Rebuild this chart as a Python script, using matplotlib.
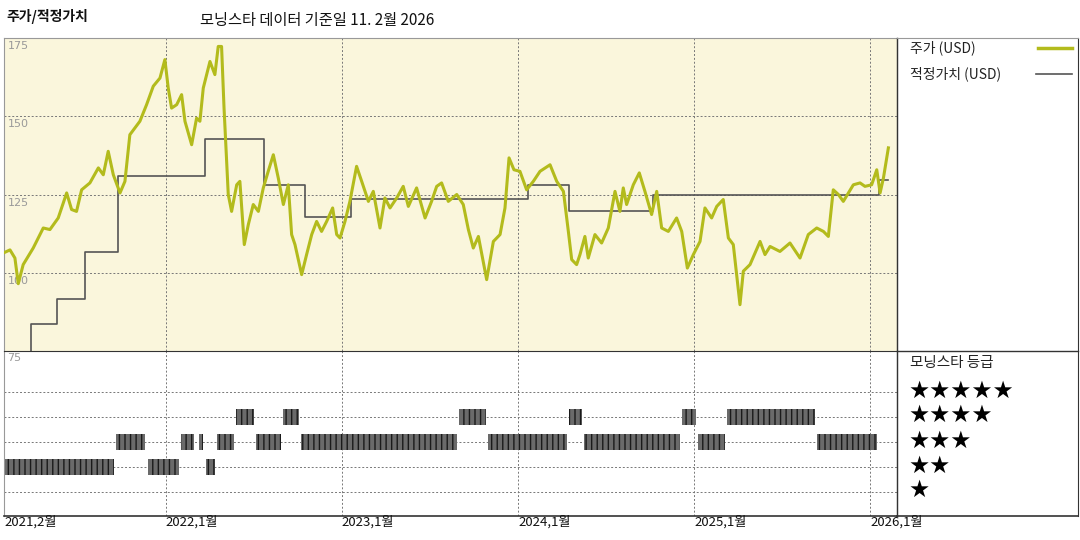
import matplotlib
matplotlib.use("Agg")
import matplotlib.pyplot as plt
from matplotlib.lines import Line2D

plt.rcParams['font.family'] = ['Noto Sans CJK KR', 'DejaVu Sans']

# ---- data ----
price_dates = [2021.076, 2021.114, 2021.142, 2021.161, 2021.189, 2021.246, 2021.303, 2021.341, 2021.388,
               2021.436, 2021.464, 2021.492, 2021.521, 2021.568, 2021.616, 2021.644, 2021.672, 2021.701,
               2021.739, 2021.767, 2021.795, 2021.852, 2021.890, 2021.928, 2021.966, 2021.994, 2022.013,
               2022.032, 2022.061, 2022.089, 2022.108, 2022.146, 2022.174, 2022.193, 2022.212, 2022.250,
               2022.278, 2022.297, 2022.316, 2022.330, 2022.354, 2022.373, 2022.402, 2022.420, 2022.445,
               2022.468, 2022.496, 2022.525, 2022.553, 2022.581, 2022.610, 2022.638, 2022.667, 2022.695,
               2022.714,
               2022.733, 2022.771, 2022.799, 2022.828, 2022.856, 2022.884, 2022.913, 2022.947, 2022.970,
               2022.989, 2023.017, 2023.045, 2023.083, 2023.112, 2023.150, 2023.178, 2023.216, 2023.244,
               2023.273, 2023.311, 2023.348, 2023.377, 2023.424, 2023.472, 2023.509, 2023.538, 2023.566,
               2023.604, 2023.652, 2023.689, 2023.718, 2023.746, 2023.775, 2023.822, 2023.860, 2023.898,
               2023.926, 2023.949, 2023.977, 2024.011, 2024.049, 2024.087, 2024.125, 2024.182, 2024.220,
               2024.258, 2024.286, 2024.305, 2024.333,
               2024.352, 2024.380, 2024.399, 2024.437, 2024.475, 2024.513, 2024.551, 2024.579, 2024.598,
               2024.617, 2024.655, 2024.689, 2024.721, 2024.759, 2024.788, 2024.816, 2024.854, 2024.901,
               2024.930, 2024.962, 2024.996, 2025.034, 2025.062, 2025.100, 2025.129, 2025.166, 2025.195,
               2025.223, 2025.261, 2025.280, 2025.318, 2025.375, 2025.403, 2025.432, 2025.488, 2025.545,
               2025.602, 2025.649, 2025.697, 2025.735, 2025.763, 2025.791, 2025.820, 2025.848, 2025.877,
               2025.905, 2025.943, 2025.971, 2026.009, 2026.038, 2026.057, 2026.076, 2026.104]
price_values = [106.3, 107.3, 104.7, 96.5, 102.6, 107.9, 114.3, 113.8, 117.5,
                125.5, 120.2, 119.6, 126.5, 128.7, 133.5, 131.3, 138.8, 131.3,
                125.5, 129.2, 144.1, 148.4, 153.7, 159.6, 162.2, 168.1, 159.0,
                152.6, 153.7, 156.9, 148.4, 140.9, 149.4, 148.4, 159.0, 167.5,
                163.3, 172.3, 172.3, 152.6, 125.0, 119.6, 128.1, 129.2, 109.0,
                115.4, 121.8, 119.6, 127.1, 132.4, 137.7, 130.3, 121.8, 128.1,
                112.2,
                109.0, 99.4, 105.8, 112.2, 116.4, 113.2, 116.4, 120.7, 112.2,
                111.1, 116.4, 122.8, 134.0, 129.2, 122.8, 126.0, 114.3, 123.9,
                120.7, 123.9, 127.6, 121.2, 127.1, 117.5, 122.8, 127.6, 128.7,
                122.8, 125.0, 121.8, 113.8, 107.9, 111.6, 97.8, 110.0, 112.2,
                120.7, 136.7, 132.9, 132.4, 126.5, 129.2, 132.4, 134.5, 129.2,
                126.0, 113.2, 104.2, 102.6,
                105.8, 111.6, 104.7, 112.2, 109.5, 114.3, 126.0, 119.6, 127.1,
                121.8, 128.1, 131.9, 126.0, 118.6, 126.0, 114.3, 113.2, 117.5,
                113.2, 101.5, 105.8, 110.0, 120.7, 117.5, 121.2, 123.4, 111.1,
                109.0, 89.8, 100.5, 102.6, 110.0, 105.8, 108.4, 106.8, 109.5,
                104.7, 112.2, 114.3, 113.2, 111.6, 126.5, 125.0, 122.8, 125.5,
                128.1, 128.7, 127.6, 128.1, 132.9, 125.5, 130.3, 139.9]

fv_dates = [2021.080, 2021.233, 2021.381, 2021.540, 2021.727, 2022.222, 2022.557, 2022.790,
            2023.051, 2024.057, 2024.290, 2024.767, 2026.051, 2026.102]
fv_values = [74.0, 83.6, 91.6, 106.7, 130.9, 142.7, 128.0, 117.8,
             123.6, 128.0, 119.8, 124.8, 129.7, 129.7]

rating_start = [2021.080, 2021.710, 2021.892, 2022.080, 2022.165, 2022.182, 2022.222, 2022.284,
                2022.392, 2022.506, 2022.659, 2022.761, 2023.659, 2023.824, 2024.284, 2024.369,
                2024.926, 2025.017, 2025.182, 2025.693]
rating_end = [2021.710, 2021.886, 2022.080, 2022.165, 2022.176, 2022.216, 2022.284, 2022.392,
              2022.506, 2022.659, 2022.761, 2023.659, 2023.824, 2024.284, 2024.369, 2024.926,
              2025.017, 2025.182, 2025.693, 2026.045]
rating_stars = [2, 3, 2, 3, 2, 3, 2, 3, 4, 3, 4, 3, 4, 3, 4, 3, 4, 3, 4, 3]

year_ticks = [2022, 2023, 2024, 2025, 2026]
x_labels = ["2021,2월", "2022,1월", "2023,1월", "2024,1월", "2025,1월", "2026,1월"]
y_ticks = [175, 150, 125, 100]

X0, X1 = 2021.080, 2026.153
W, H = 1080, 540

fig = plt.figure(figsize=(10.8, 5.4), dpi=100)
fig.patch.set_facecolor('white')

def fx(px): return px / W
def fy(py): return 1 - py / H

ax1 = fig.add_axes([fx(4), fy(351), fx(893), (351 - 38) / H])
ax2 = fig.add_axes([fx(4), fy(516), fx(893), (516 - 351) / H])

grid_kw = dict(color='#777777', linestyle=(0, (2, 2)), linewidth=0.7)

# upper
ax1.set_facecolor('#faf6dc')
ax1.set_xlim(X0, X1)
ax1.set_ylim(75, 175)
for v in [150, 125, 100]:
    ax1.axhline(v, **grid_kw, zorder=1)
for yr in year_ticks:
    ax1.axvline(yr, **grid_kw, zorder=1)
ax1.step(fv_dates, fv_values, where='post', color='#555555', lw=1.2, zorder=3)
ax1.plot(price_dates, price_values, color='#b3bb1c', lw=2.2, zorder=4)
for v in y_ticks:
    ax1.text(X0 + 0.02, v - 1.0, str(v), fontsize=8, color='#999999', va='top', ha='left',
             family=['DejaVu Sans'])
ax1.set_xticks([]); ax1.set_yticks([])
for s in ax1.spines.values():
    s.set_color('#999999'); s.set_linewidth(0.8)
ax1.spines['bottom'].set_visible(False)

# lower
ax2.set_facecolor('white')
ax2.set_xlim(X0, X1)
ax2.set_ylim(0.04, 6.64)
for r in [1, 2, 3, 4, 5]:
    ax2.axhline(r, **grid_kw, zorder=1)
for yr in year_ticks:
    ax2.axvline(yr, **grid_kw, zorder=1)
gap = 0.004
for s0, s1, st in zip(rating_start, rating_end, rating_stars):
    ax2.broken_barh([(s0 + gap, s1 - s0 - 2 * gap)], (st - 0.32, 0.64),
                    facecolor='#6a6a6a', edgecolor='#1a1a1a', hatch='|||', linewidth=0, zorder=3)
ax2.text(X0 + 0.02, 6.55, "75", fontsize=8, color='#999999', va='top', ha='left', family=['DejaVu Sans'])
ax2.set_xticks([]); ax2.set_yticks([])
for s in ax2.spines.values():
    s.set_color('#999999'); s.set_linewidth(0.8)
ax2.spines['bottom'].set_color('#333333'); ax2.spines['bottom'].set_linewidth(1.2)
ax2.spines['top'].set_color('#333333')

# x labels
label_pos = [X0] + year_ticks
for xp, lab in zip(label_pos, x_labels):
    xf = fx(4) + (xp - X0) / (X1 - X0) * fx(893)
    fig.text(xf, fy(522), lab, fontsize=9.5, va='center', ha='left', color='#111111')

# right panel lines
fig.add_artist(Line2D([fx(897), fx(897)], [fy(38), fy(516)], color='#333333', lw=1))
fig.add_artist(Line2D([fx(897), fx(1078)], [fy(351), fy(351)], color='#333333', lw=1))
fig.add_artist(Line2D([fx(897), fx(1078)], [fy(516), fy(516)], color='#333333', lw=1.2))
fig.add_artist(Line2D([fx(1078), fx(1078)], [fy(38), fy(516)], color='#333333', lw=0.8))
fig.add_artist(Line2D([fx(897), fx(1078)], [fy(38), fy(38)], color='#999999', lw=0.8))

fig.text(fx(910), fy(48), "주가 (USD)", fontsize=10, va='center', color='#222222')
fig.add_artist(Line2D([fx(1038), fx(1072)], [fy(48), fy(48)], color='#b3bb1c', lw=2.5))
fig.text(fx(910), fy(74), "적정가치 (USD)", fontsize=10, va='center', color='#222222')
fig.add_artist(Line2D([fx(1036), fx(1072)], [fy(74), fy(74)], color='#555555', lw=1.2))

fig.text(fx(910), fy(363), "모닝스타 등급", fontsize=10.5, va='center', color='#222222')
for n, py in zip([5, 4, 3, 2, 1], [391, 415, 441, 466, 490]):
    fig.text(fx(908), fy(py), "★" * n, fontsize=17, va='center', color='black', family=['DejaVu Sans'])

# header
fig.text(fx(6), fy(16), "주가/적정가치", fontsize=10, fontweight='bold', va='center', color='#111111')
fig.text(fx(200), fy(20), "모닝스타 데이터 기준일 11. 2월 2026", fontsize=11, va='center', color='#111111')

fig.savefig("out.png", dpi=100)
